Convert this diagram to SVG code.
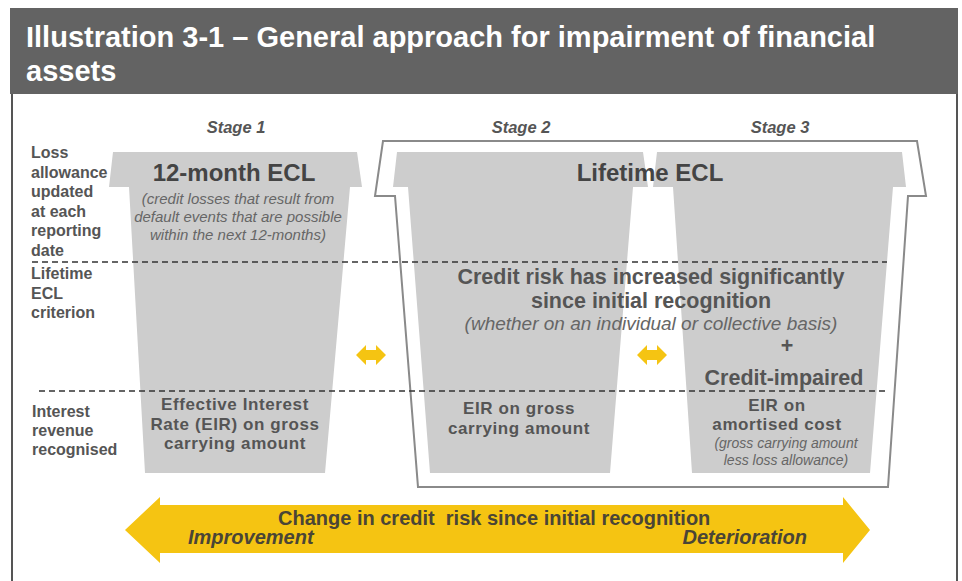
<svg xmlns="http://www.w3.org/2000/svg" width="962" height="581" viewBox="0 0 962 581">
<style>
.title{font-family:"Liberation Sans",Arial,sans-serif;font-weight:bold;font-size:29px;fill:#ffffff}
.stage{font-family:"Liberation Sans",Arial,sans-serif;font-weight:bold;font-style:italic;font-size:16.5px;fill:#555}
.lbl{font-family:"Liberation Sans",Arial,sans-serif;font-weight:bold;font-size:16px;fill:#555}
.cup{fill:#cdcdcd}
.big{font-family:"Liberation Sans",Arial,sans-serif;font-weight:bold;font-size:24px;fill:#444;text-anchor:middle}
.mid{font-family:"Liberation Sans",Arial,sans-serif;font-weight:bold;font-size:21.5px;fill:#555;text-anchor:middle}
.body{font-family:"Liberation Sans",Arial,sans-serif;font-weight:bold;font-size:17px;letter-spacing:0.6px;fill:#555;text-anchor:middle}
.it{font-family:"Liberation Sans",Arial,sans-serif;font-style:italic;fill:#666;text-anchor:middle}
.dash{stroke:#333;stroke-width:1.5;stroke-dasharray:6 4;fill:none}
.yel{fill:#f5c412}
.arr{font-family:"Liberation Sans",Arial,sans-serif;font-weight:bold;font-size:20px;fill:#4a4536}
</style>
<rect x="0" y="0" width="962" height="581" fill="#ffffff"/>
<g id="title">
<rect x="10" y="8" width="948" height="86" fill="#636363"/>
<text class="title" x="26" y="47">Illustration 3-1 – General approach for impairment of financial</text>
<text class="title" x="26" y="81">assets</text>
</g>
<g id="frame">
<line x1="12" y1="94" x2="12" y2="581" stroke="#555" stroke-width="2"/>
<line x1="957" y1="94" x2="957" y2="581" stroke="#555" stroke-width="2"/>
</g>
<g id="row-labels">
<text class="lbl" x="31"><tspan x="31" y="158">Loss</tspan><tspan x="31" y="177.5">allowance</tspan><tspan x="31" y="197">updated</tspan><tspan x="31" y="216.5">at each</tspan><tspan x="31" y="236">reporting</tspan><tspan x="31" y="255.5">date</tspan></text>
<text class="lbl" x="31"><tspan x="31" y="279">Lifetime</tspan><tspan x="31" y="298.5">ECL</tspan><tspan x="31" y="318">criterion</tspan></text>
<text class="lbl" x="32"><tspan x="32" y="417">Interest</tspan><tspan x="32" y="436">revenue</tspan><tspan x="32" y="455">recognised</tspan></text>
</g>
<g id="lifetime-outline">
<path d="M383,141 L917,141 L926,196 L908,196 L888,487 L418,487 L395,196 L375,196 Z" fill="#ffffff" stroke="#8a8a8a" stroke-width="2" stroke-linejoin="miter"/>
</g>
<g id="stage1">
<text class="stage" x="236" y="133" text-anchor="middle">Stage 1</text>
<path class="cup" d="M113,152 L357,152 L362,187 L350,187 L325,473 L145,473 L129,187 L109,187 Z"/>
<text class="big" x="234" y="181">12-month ECL</text>
<text class="it" font-size="15"><tspan x="238" y="204">(credit losses that result from</tspan><tspan x="238" y="222">default events that are possible</tspan><tspan x="238" y="240">within the next 12-months)</tspan></text>
<text class="body"><tspan x="235" y="410">Effective Interest</tspan><tspan x="235" y="429.5">Rate (EIR) on gross</tspan><tspan x="235" y="449">carrying amount</tspan></text>
</g>
<g id="stage2">
<text class="stage" x="521" y="133" text-anchor="middle">Stage 2</text>
<path class="cup" d="M397,152 L643,152 L648,187 L633,187 L610,473 L430,473 L408,187 L393,187 Z"/>
<text class="body"><tspan x="519" y="414">EIR on gross</tspan><tspan x="519" y="433.5">carrying amount</tspan></text>
</g>
<g id="stage3">
<text class="stage" x="780" y="133" text-anchor="middle">Stage 3</text>
<path class="cup" d="M657,152 L902,152 L906,187 L893,187 L870,473 L692,473 L673,187 L653,187 Z"/>
<text class="body"><tspan x="777" y="411">EIR on</tspan><tspan x="777" y="430">amortised cost</tspan></text>
<text class="it" font-size="14"><tspan x="786" y="448">(gross carrying amount</tspan><tspan x="786" y="465">less loss allowance)</tspan></text>
<text class="mid" x="784" y="385">Credit-impaired</text>
<text class="mid" x="787" y="353" font-size="26">+</text>
</g>
<g id="lifetime-texts">
<text class="big" x="650" y="181">Lifetime ECL</text>
<text class="mid" x="651" y="284">Credit risk has increased significantly</text>
<text class="mid" x="651" y="308">since initial recognition</text>
<text class="it" x="651" y="330" font-size="19">(whether on an individual or collective basis)</text>
</g>
<g id="connectors">
<line class="dash" x1="32" y1="262" x2="887" y2="262"/>
<line class="dash" x1="39" y1="391" x2="887" y2="391"/>
<path class="yel" d="M356,355 L366,345 L366,350 L376,350 L376,345 L386,355 L376,365 L376,360 L366,360 L366,365 Z"/>
<path class="yel" d="M637,355 L647,345 L647,350 L657,350 L657,345 L667,355 L657,365 L657,360 L647,360 L647,365 Z"/>
</g>
<g id="change-arrow">
<path class="yel" d="M125,530 L160,497 L160,505 L843,505 L843,497 L870,530 L843,563 L843,553 L160,553 L160,563 Z"/>
<text class="arr" x="278" y="525" xml:space="preserve">Change in credit  risk since initial recognition</text>
<text class="arr" x="188" y="544" font-style="italic">Improvement</text>
<text class="arr" x="807" y="544" font-style="italic" text-anchor="end">Deterioration</text>
</g>
</svg>
